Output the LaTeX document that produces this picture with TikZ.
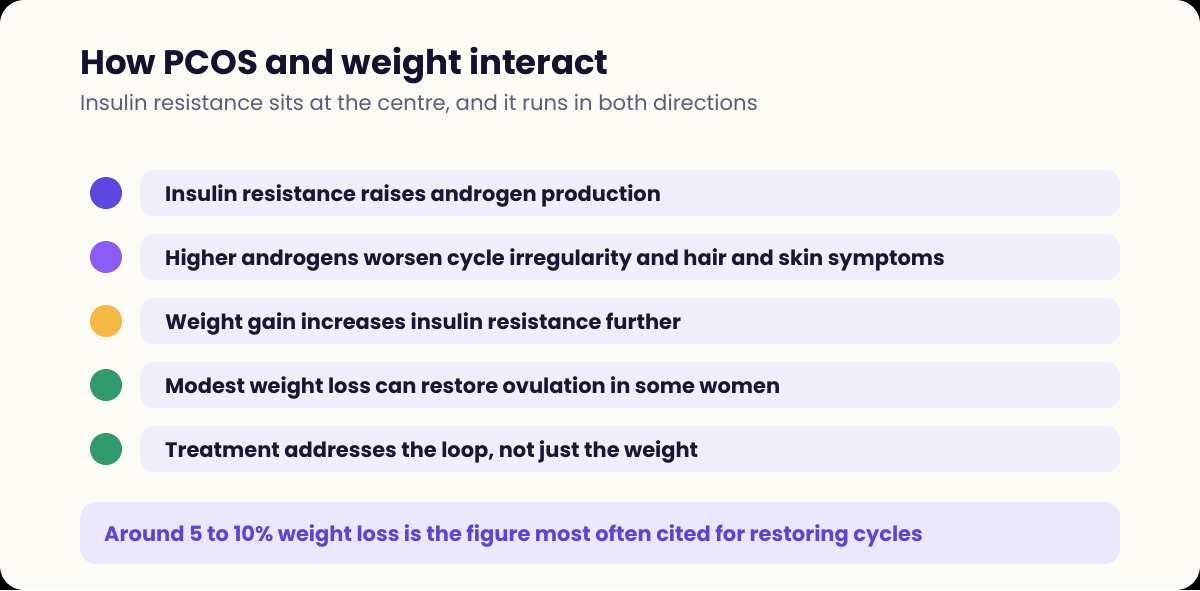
\documentclass[tikz,border=0pt]{standalone}
\usepackage{fontspec}
\setmainfont{Poppins}
\definecolor{bgc}{HTML}{FDFBF6}
\definecolor{pill}{HTML}{F1EEFC}
\definecolor{note}{HTML}{EBE7FC}
\definecolor{ttl}{HTML}{15122F}
\definecolor{sub}{HTML}{5F5B78}
\definecolor{itm}{HTML}{1A1634}
\definecolor{c1}{HTML}{5C47E0}
\definecolor{c2}{HTML}{8B5CF6}
\definecolor{c3}{HTML}{F4B942}
\definecolor{c4}{HTML}{2E9A6E}
\definecolor{notetxt}{HTML}{5B45D8}
\tikzset{
  pillbox/.style={fill=pill, draw=none, rounded corners=14pt, minimum width=980pt, minimum height=46pt, anchor=west, inner sep=0pt},
  dot/.style={circle, draw=none, minimum size=32pt, inner sep=0pt},
  itemtext/.style={anchor=base west, text=itm, font=\bfseries\fontsize{20.95pt}{24pt}\selectfont, inner sep=0pt},
}
\begin{document}
\begin{tikzpicture}[x=1pt,y=-1pt]
\useasboundingbox (0,0) rectangle (1200,590);
\fill[black] (0,0) rectangle (1200,590);
\fill[bgc, rounded corners=24pt] (0,0) rectangle (1200,590);
\node[anchor=base west, inner sep=0pt, text=ttl, font=\bfseries\fontsize{34pt}{38pt}\selectfont] (title) at (80,74) {How PCOS and weight interact};
\node[anchor=base west, inner sep=0pt, text=sub, font=\fontsize{21.2pt}{24pt}\selectfont] (subtitle) at (80,110) {Insulin resistance sits at the centre, and it runs in both directions};
\foreach \i/\y/\c/\t in {1/193/c1/{Insulin resistance raises androgen production},
                        2/257/c2/{Higher androgens worsen cycle irregularity and hair and skin symptoms},
                        3/321/c3/{Weight gain increases insulin resistance further},
                        4/385/c4/{Modest weight loss can restore ovulation in some women},
                        5/449/c4/{Treatment addresses the loop, not just the weight}}{
  \node[dot, fill=\c] (d\i) at (106,\y) {};
  \node[pillbox] (p\i) at (140,\y) {};
  \node[itemtext] (t\i) at (165,\y+8) {\t};
}
\node[fill=note, rounded corners=16pt, minimum width=1040pt, minimum height=62pt, anchor=west, inner sep=0pt] (notebox) at (80,533) {};
\node[anchor=base west, inner sep=0pt, text=notetxt, font=\bfseries\fontsize{21pt}{24pt}\selectfont] (notetext) at (104,541) {Around 5 to 10\% weight loss is the figure most often cited for restoring cycles};
\end{tikzpicture}
\end{document}
